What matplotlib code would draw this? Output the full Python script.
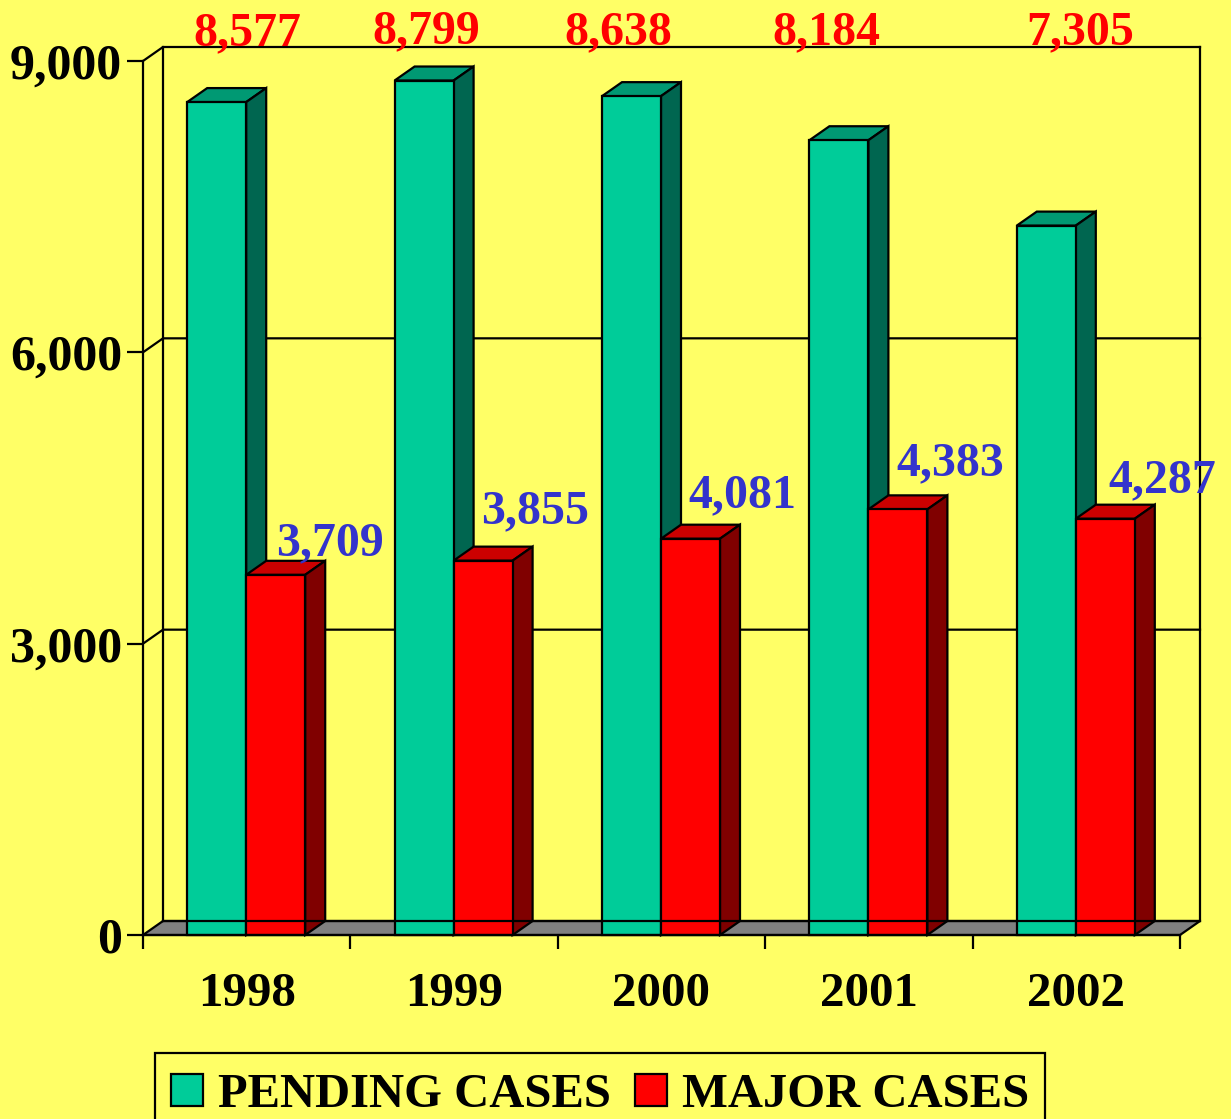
import numpy as np
import matplotlib
import matplotlib.pyplot as plt
from matplotlib.patches import Rectangle

matplotlib.use('agg')
plt.rcParams['font.family'] = ['Liberation Serif', 'DejaVu Serif']
plt.rcParams['font.weight'] = 'bold'

# Data
years = ['1998', '1999', '2000', '2001', '2002']
pending_cases = [8577, 8799, 8638, 8184, 7305]
major_cases = [3709, 3855, 4081, 4383, 4287]
y_ticks = [0, 3000, 6000, 9000]

# Colours
BACKGROUND = '#FFFF66'
GREEN = ('#00CC99', '#009973', '#006650')  # front, top, side
RED = ('#FF0000', '#CC0000', '#800000')
BLUE_TEXT = '#3333CC'
LW = 1.6

# Figure layout, in pixels
W, H = 1231, 1119
LEFT, RIGHT, TOP, BOTTOM = 143, 1180, 61, 935

# Label centres, in pixels
pending_label_pos = [(247, 33), (426, 31), (618, 32), (826, 32), (1080, 32)]
major_label_pos = [(330, 543), (535, 511), (742, 495), (950, 463), (1162, 480)]

fig = plt.figure(figsize=(W / 100, H / 100), dpi=100, facecolor=BACKGROUND)
ax = fig.add_axes([LEFT / W, 1 - BOTTOM / H, (RIGHT - LEFT) / W, (BOTTOM - TOP) / H])
ax.set_facecolor('none')
ax.set_xlim(0, 5)
ax.set_ylim(0, 9000)

# depth of the fake 3D, in data units
dx = 20 * 5 / (RIGHT - LEFT)
dy = 14 * 9000 / (BOTTOM - TOP)


def draw_line(xs, ys, zorder=2):
    ax.plot(xs, ys, color='black', lw=LW, clip_on=False, zorder=zorder,
            solid_joinstyle='miter', solid_capstyle='projecting')


def draw_bars(centers, values, width, colors, label, zorder):
    """Draw one series as front faces with a top and a side face."""
    bars = ax.bar(centers, values, width, color=colors[0], edgecolor='black', linewidth=LW,
                  label=label, zorder=zorder + 0.2, clip_on=False)
    for xc, v in zip(centers, values):
        x0, x1 = xc - width / 2, xc + width / 2
        ax.fill([x0, x0 + dx, x1 + dx, x1], [v, v + dy, v + dy, v], facecolor=colors[1],
                edgecolor='black', lw=LW, zorder=zorder, clip_on=False, joinstyle='miter')
        ax.fill([x1, x1 + dx, x1 + dx, x1], [0, dy, v + dy, v], facecolor=colors[2],
                edgecolor='black', lw=LW, zorder=zorder, clip_on=False, joinstyle='miter')
    return bars


# Floor
ax.fill([0, dx, 5 + dx, 5], [0, dy, dy, 0], facecolor='#808080', edgecolor='black', lw=LW,
        zorder=1, clip_on=False, joinstyle='miter')

# Walls and grid
for v in y_ticks[1:]:
    draw_line([0, dx, 5 + dx], [v, v + dy, v + dy])
draw_line([dx, dx], [dy, 9000 + dy])
draw_line([5 + dx, 5 + dx], [dy, 9000 + dy])

# Bars, slightly left of the category centre
x = np.arange(len(years)) + 0.5
bar_shift = 0.5 * 5 / (RIGHT - LEFT)
bar_width = 59 * 5 / (RIGHT - LEFT)
draw_bars(x - bar_shift - bar_width / 2, pending_cases, bar_width, GREEN, 'PENDING CASES', 3)
draw_bars(x - bar_shift + bar_width / 2, major_cases, bar_width, RED, 'MAJOR CASES', 4)

# The back edge of the floor shows through the bars
draw_line([dx, 5 + dx], [dy, dy], zorder=5)

# Axes
for side in ['top', 'right']:
    ax.spines[side].set_visible(False)
for side in ['left', 'bottom']:
    ax.spines[side].set_linewidth(LW)
    ax.spines[side].set_zorder(6)
ax.set_yticks(y_ticks, [f'{v:,}' for v in y_ticks])
ax.set_xticks(np.arange(len(years) + 1))
ax.set_xticks(x, years, minor=True)
ax.tick_params(axis='y', length=11.5, width=LW, pad=3.5, labelsize=36)
ax.tick_params(axis='x', which='major', length=10, width=LW, labelbottom=False)
ax.tick_params(axis='x', which='minor', length=0, pad=27, labelsize=35.3)

# Value labels
for (px, py), v in zip(pending_label_pos, pending_cases):
    fig.text(px / W, 1 - py / H, f'{v:,}', color='#FF0000', fontsize=34.5,
             ha='center', va='center', zorder=10)
for (px, py), v in zip(major_label_pos, major_cases):
    fig.text(px / W, 1 - py / H, f'{v:,}', color=BLUE_TEXT, fontsize=34.5,
             ha='center', va='center', zorder=10)

# Legend box runs off the bottom of the picture, so it gets its own frame
legend = ax.legend(loc='upper left', bbox_to_anchor=(155 / W, 1 - 1057 / H),
                   bbox_transform=fig.transFigure, ncol=2, fontsize=35, frameon=False,
                   borderaxespad=0, borderpad=0.33, handlelength=0.66, handleheight=0.65,
                   handletextpad=0.3, columnspacing=0.5)
fig.add_artist(Rectangle((155 / W, -20 / H), 890 / W, (H - 1053 + 20) / H, facecolor='none',
                         edgecolor='black', lw=LW, transform=fig.transFigure))

fig.savefig('out.png', dpi=100, facecolor=BACKGROUND)
